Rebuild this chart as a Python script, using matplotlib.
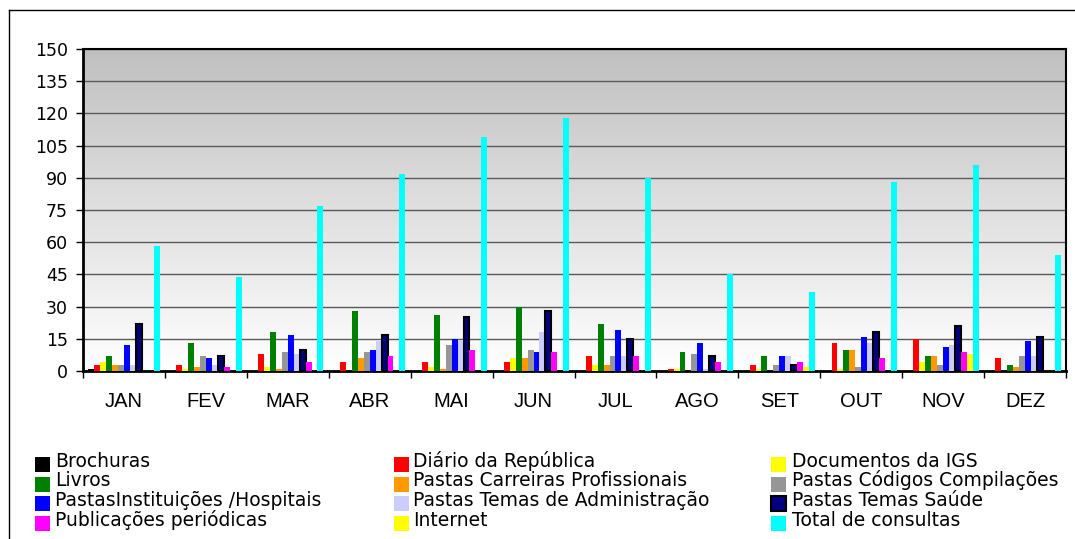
import numpy as np
import matplotlib
matplotlib.use('Agg')
import matplotlib.pyplot as plt
from matplotlib.patches import Rectangle
from matplotlib.lines import Line2D

plt.rcParams['font.family'] = ['DejaVu Sans']

# Data
months = ['JAN', 'FEV', 'MAR', 'ABR', 'MAI', 'JUN', 'JUL', 'AGO', 'SET', 'OUT', 'NOV', 'DEZ']

brochuras = [1, 0, 0, 0, 0, 0, 0, 0, 0, 0, 0, 0]
diario = [3, 3, 8, 4, 4, 4, 7, 1, 3, 13, 15, 6]
documentos = [4, 1, 2, 0, 2, 6, 3, 1, 1, 1, 4, 0]
livros = [7, 13, 18, 28, 26, 30, 22, 9, 7, 10, 7, 3]
carreiras = [3, 2, 1, 6, 1, 6, 3, 0, 0, 10, 7, 2]
codigos = [3, 7, 9, 9, 12, 10, 7, 8, 3, 2, 3, 7]
instituicoes = [12, 6, 17, 10, 15, 9, 19, 13, 7, 16, 11, 14]
temas_adm = [3, 3, 8, 14, 14, 18, 7, 1, 7, 13, 12, 7]
temas_saude = [22, 7, 10, 17, 25, 28, 15, 7, 3, 18, 21, 16]
publicacoes = [0, 2, 4, 7, 10, 9, 7, 4, 4, 6, 9, 0]
internet = [0, 0, 0, 0, 0, 0, 0, 0, 2, 0, 8, 0]
total = [58, 44, 77, 92, 109, 118, 90, 45, 37, 88, 96, 54]

labels = ['Brochuras', 'Diário da República', 'Documentos da IGS',
          'Livros', 'Pastas Carreiras Profissionais', 'Pastas Códigos Compilações',
          'PastasInstituições /Hospitais', 'Pastas Temas de Administração', 'Pastas Temas Saúde',
          'Publicações periódicas', 'Internet', 'Total de consultas']
series = [brochuras, diario, documentos, livros, carreiras, codigos,
          instituicoes, temas_adm, temas_saude, publicacoes, internet, total]
colors = ['#000000', '#ff0000', '#ffff00', '#008000', '#ff9900', '#969696',
          '#0000ff', '#ccccff', '#000080', '#ff00ff', '#ffff00', '#00ffff']

W, H = 1075, 539
fig = plt.figure(figsize=(W / 100, H / 100), dpi=100)
ax = fig.add_axes([83 / W, 1 - 371 / H, (1066 - 83) / W, (371 - 49) / H])

# gradient background of the plot area
grad = np.linspace(0, 1, 256).reshape(-1, 1)
ax.imshow(grad, cmap=matplotlib.colors.LinearSegmentedColormap.from_list('g', ['#c0c0c0', '#ffffff']),
          extent=[0, 1, 0, 1], transform=ax.transAxes, aspect='auto', zorder=0)

x = np.arange(len(months))
bw = 0.0725
for i, (vals, col) in enumerate(zip(series, colors)):
    off = (i - 5.5) * bw
    if col == '#000080':
        ax.bar(x + off, vals, bw, color=col, edgecolor='black', linewidth=1.5, zorder=3)
    else:
        ax.bar(x + off, vals, bw, color=col, linewidth=0, zorder=3)

ax.set_xlim(-0.5, 11.5)
ax.set_ylim(0, 150)
ax.set_yticks(range(0, 151, 15))
ax.yaxis.grid(True, color='#5a5a5a', linewidth=1.0, zorder=1)
ax.set_axisbelow(True)
ax.tick_params(axis='y', direction='out', length=5, width=1, pad=6, labelsize=12.5)

ax.set_xticks(x)
ax.set_xticklabels(months, family='Liberation Sans', fontsize=14.5)
ax.set_xticks(np.arange(-0.5, 12, 1), minor=True)
ax.tick_params(axis='x', which='major', length=0, pad=15)
ax.tick_params(axis='x', which='minor', direction='out', length=5, width=1)

for s in ['left', 'bottom']:
    ax.spines[s].set_linewidth(2)
for s in ['top', 'right']:
    ax.spines[s].set_linewidth(1.5)

# outer chart frame (left and top edges visible)
fig.add_artist(Line2D([9 / W, 9 / W], [0, 1 - 10 / H], color='black', linewidth=1))
fig.add_artist(Line2D([9 / W, 1], [1 - 10 / H, 1 - 10 / H], color='black', linewidth=1))

# legend, row-major in three columns
col_box = [35, 394, 771]
col_txt = [55, 413, 792]
row_base = [467, 486.5, 506, 525.5]
for k, (lab, col) in enumerate(zip(labels, colors)):
    r, c = divmod(k, 3)
    yb = row_base[r]
    edge = 'black' if col == '#000080' else col
    fig.add_artist(Rectangle((col_box[c] / W, 1 - (yb + 5) / H), 15 / W, 15 / H,
                             transform=fig.transFigure, facecolor=col, edgecolor=edge,
                             linewidth=1.5 if col == '#000080' else 0))
    fig.text(col_txt[c] / W, 1 - yb / H, lab, fontsize=13.5, va='baseline', ha='left')

fig.savefig('out.png', dpi=100)
